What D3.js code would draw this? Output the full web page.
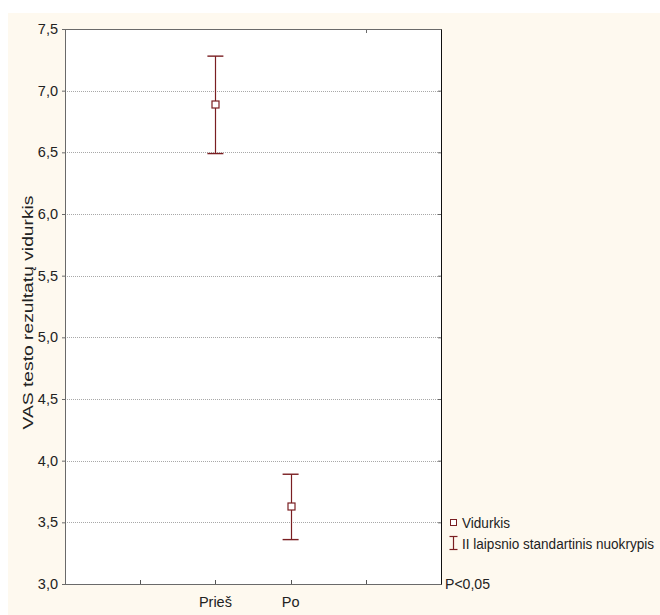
<!DOCTYPE html>
<html>
<head>
<meta charset="utf-8">
<script src="https://cdn.jsdelivr.net/npm/d3@7"></script>
<style>
  html, body { margin: 0; padding: 0; background: #ffffff; }
  svg { display: block; }
  text { font-family: "Liberation Sans", Arial, sans-serif; fill: #222; }
</style>
</head>
<body>
<svg id="chart" width="660" height="615"></svg>
<script>
// ---- data ----
const categories = ["Prieš", "Po"];
const means = [6.89, 3.63];
const upper = [7.28, 3.89];
const lower = [6.49, 3.36];
const yTicks = [3.0, 3.5, 4.0, 4.5, 5.0, 5.5, 6.0, 6.5, 7.0, 7.5];
const yLabel = "VAS testo rezultatų vidurkis";
const legendLabels = ["Vidurkis", "II laipsnio standartinis nuokrypis"];
const noteText = "P<0,05";

// ---- layout ----
const W = 660, H = 615;
const plot = { left: 65, top: 29, right: 441, bottom: 584 };
const markColor = "#7a1f22";

const svg = d3.select("#chart");

// cream background
svg.append("rect").attr("x", 8).attr("y", 13).attr("width", W - 8).attr("height", H - 13)
  .attr("fill", "#fef9ef");

const x = d3.scalePoint().domain(categories).range([plot.left, plot.right]).padding(2);
const y = d3.scaleLinear().domain([3.0, 7.5]).range([plot.bottom, plot.top]);

// plot area
svg.append("rect").attr("x", plot.left).attr("y", plot.top)
  .attr("width", plot.right - plot.left).attr("height", plot.bottom - plot.top)
  .attr("fill", "#ffffff");

// grid lines
svg.append("g").selectAll("line").data(yTicks.filter(t => t > 3.0 && t < 7.5)).join("line")
  .attr("x1", plot.left).attr("x2", plot.right)
  .attr("y1", d => Math.round(y(d)) + 0.5).attr("y2", d => Math.round(y(d)) + 0.5)
  .attr("stroke", "#a8a8a8").attr("stroke-width", 1).attr("stroke-dasharray", "1,1");

// y axis (left)
const fmt = d => d3.format(".1f")(d).replace(".", ",");
const yAxis = svg.append("g").attr("transform", `translate(${plot.left},0)`)
  .call(d3.axisLeft(y).tickValues(yTicks).tickFormat(fmt).tickSize(3).tickPadding(4));
yAxis.select(".domain").attr("stroke", "#6a6a6a");
yAxis.selectAll(".tick line").attr("stroke", "#6a6a6a");
yAxis.selectAll("text").attr("font-size", "14.5px").attr("fill", "#333")
  .style("font-family", "'Liberation Sans', Arial, sans-serif");

// right axis inward ticks
const yRight = svg.append("g").attr("transform", `translate(${plot.right},0)`)
  .call(d3.axisLeft(y).tickValues(yTicks).tickFormat("").tickSize(3));
yRight.select(".domain").attr("stroke", "#111");
yRight.selectAll(".tick line").attr("stroke", "#6a6a6a");

// x axis (bottom) with inward ticks at slot positions
const step = x.step();
const slotPos = d3.range(1, 5).map(i => plot.left + i * step);
svg.append("line").attr("x1", plot.left).attr("x2", plot.right)
  .attr("y1", plot.bottom + 0.5).attr("y2", plot.bottom + 0.5).attr("stroke", "#6a6a6a");
svg.append("g").selectAll("line").data(slotPos).join("line")
  .attr("x1", d => Math.round(d) + 0.5).attr("x2", d => Math.round(d) + 0.5)
  .attr("y1", plot.bottom).attr("y2", plot.bottom - 4).attr("stroke", "#555");
// top axis
svg.append("line").attr("x1", plot.left).attr("x2", plot.right)
  .attr("y1", plot.top + 0.5).attr("y2", plot.top + 0.5).attr("stroke", "#6a6a6a");
svg.append("line").attr("x1", Math.round(slotPos[3]) + 0.5).attr("x2", Math.round(slotPos[3]) + 0.5)
  .attr("y1", plot.top).attr("y2", plot.top + 4).attr("stroke", "#6a6a6a");

// x labels
svg.append("g").selectAll("text").data(categories).join("text")
  .attr("x", d => x(d)).attr("y", 607).attr("text-anchor", "middle")
  .attr("font-size", "14.5px").attr("fill", "#333").text(d => d);

// y label
svg.append("text")
  .attr("transform", `translate(33,${(plot.top + plot.bottom) / 2 + 6}) rotate(-90)`)
  .attr("text-anchor", "middle").attr("font-size", "14px").attr("fill", "#333")
  .attr("textLength", 234).attr("lengthAdjust", "spacingAndGlyphs")
  .text(yLabel);

// error bars
const capW = 16;
const bars = svg.append("g").selectAll("g").data(categories).join("g");
bars.append("line")
  .attr("x1", d => Math.round(x(d)) + 0.5).attr("x2", d => Math.round(x(d)) + 0.5)
  .attr("y1", (d, i) => y(upper[i])).attr("y2", (d, i) => y(lower[i]))
  .attr("stroke", markColor).attr("stroke-width", 1.2);
bars.append("line")
  .attr("x1", d => x(d) - capW / 2).attr("x2", d => x(d) + capW / 2)
  .attr("y1", (d, i) => y(upper[i])).attr("y2", (d, i) => y(upper[i]))
  .attr("stroke", markColor).attr("stroke-width", 1.4);
bars.append("line")
  .attr("x1", d => x(d) - capW / 2).attr("x2", d => x(d) + capW / 2)
  .attr("y1", (d, i) => y(lower[i])).attr("y2", (d, i) => y(lower[i]))
  .attr("stroke", markColor).attr("stroke-width", 1.4);
bars.append("rect")
  .attr("x", d => Math.round(x(d)) - 3).attr("y", (d, i) => Math.round(y(means[i])) - 3)
  .attr("width", 7).attr("height", 7)
  .attr("fill", "#ffffff").attr("stroke", markColor).attr("stroke-width", 1.2);

// legend
const lg = svg.append("g");
lg.append("rect").attr("x", 450.5).attr("y", 519.5).attr("width", 6).attr("height", 6)
  .attr("fill", "#fff").attr("stroke", markColor).attr("stroke-width", 1);
lg.append("text").attr("x", 462).attr("y", 528).attr("font-size", "14.5px").attr("fill", "#222")
  .attr("textLength", 48).attr("lengthAdjust", "spacingAndGlyphs")
  .text(legendLabels[0]);
lg.append("line").attr("x1", 453.5).attr("x2", 453.5).attr("y1", 536).attr("y2", 550)
  .attr("stroke", markColor).attr("stroke-width", 1.2);
lg.append("line").attr("x1", 449.5).attr("x2", 457.5).attr("y1", 536.5).attr("y2", 536.5)
  .attr("stroke", markColor).attr("stroke-width", 1.2);
lg.append("line").attr("x1", 449.5).attr("x2", 457.5).attr("y1", 549.5).attr("y2", 549.5)
  .attr("stroke", markColor).attr("stroke-width", 1.2);
lg.append("text").attr("x", 462).attr("y", 549).attr("font-size", "14px").attr("fill", "#222")
  .attr("textLength", 192).attr("lengthAdjust", "spacingAndGlyphs")
  .text(legendLabels[1]);

svg.append("text").attr("x", 445).attr("y", 589).attr("font-size", "14.5px").attr("fill", "#222")
  .attr("textLength", 45).attr("lengthAdjust", "spacingAndGlyphs")
  .text(noteText);
</script>
</body>
</html>
